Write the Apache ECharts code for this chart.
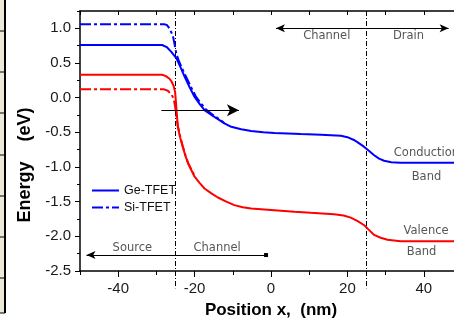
<!DOCTYPE html>
<html>
<head>
<meta charset="utf-8">
<script src="https://cdn.jsdelivr.net/npm/echarts@6/dist/echarts.min.js"></script>
<style>
html, body { margin: 0; padding: 0; background: #fff; }
#chart { width: 454px; height: 320px; }
</style>
</head>
<body>
<div id="chart"></div>
<script>
// band edges: position x (nm) -> energy (eV)
const geCbX = [-50, -28.5, -27.3, -26.1, -24.8, -23.7, -22.6, -21.3, -20, -18.7, -17.4, -15.6, -13.9, -12.2, -10.4, -7.8, -5.2, -2, 0.9, 7.8, 13.1, 18.3, 20, 21.7, 23.1, 24.4, 25.7, 27, 28.3, 29.6, 31.5, 33.9, 50];
const geCbE = [0.76, 0.76, 0.73, 0.66, 0.57, 0.44, 0.30, 0.15, 0.01, -0.09, -0.18, -0.25, -0.31, -0.37, -0.42, -0.455, -0.48, -0.50, -0.51, -0.525, -0.535, -0.55, -0.57, -0.61, -0.66, -0.71, -0.77, -0.83, -0.88, -0.91, -0.93, -0.94, -0.94];

const geVbX = [-50, -28.5, -27.5, -26.5, -26.0, -25.5, -25.1, -24.9, -24.7, -24.4, -23.8, -23.1, -22.4, -21.7, -20.8, -20, -18.7, -17.4, -15.6, -13.9, -11.7, -9.6, -7.4, -5.2, 0, 6.1, 10.4, 16.5, 19, 20.9, 22.7, 24.4, 25.7, 27, 28.7, 30.5, 33.9, 50];
const geVbE = [0.33, 0.33, 0.31, 0.27, 0.23, 0.17, 0.08, -0.05, -0.2, -0.42, -0.57, -0.71, -0.84, -0.95, -1.05, -1.14, -1.23, -1.31, -1.38, -1.44, -1.50, -1.55, -1.58, -1.60, -1.62, -1.645, -1.66, -1.68, -1.70, -1.73, -1.78, -1.84, -1.91, -1.98, -2.02, -2.05, -2.07, -2.07];

// Si-TFET merges into the Ge curves once inside the channel
const siCbX = [-50, -28, -27.3, -26.6, -26.0, -25.6, -25.2, -24.8, -24.2, -23.5, -22.3, -21, -19.7, -18.4, -17, -15, -13.5, -12.2];
const siCbE = [1.06, 1.06, 1.05, 1.00, 0.93, 0.87, 0.76, 0.64, 0.54, 0.45, 0.31, 0.16, 0.02, -0.08, -0.17, -0.26, -0.31, -0.37];
const siVbX = [-50, -28, -27, -26.5, -26, -25.5, -25.1, -24.8, -24.4, -23.8, -23.1, -22.4, -21.7, -20.8, -20];
const siVbE = [0.12, 0.12, 0.10, 0.08, 0.04, -0.01, -0.13, -0.25, -0.40, -0.55, -0.70, -0.83, -0.94, -1.04, -1.13];

// region boundaries (dash-dot verticals)
const boundaries = [-25, 25];

// tick labels
const xLabels = [-40, -20, 0, 20, 40];
const yLabels = [-2.5, -2.0, -1.5, -1.0, -0.5, 0.0, 0.5, 1.0];

// arrows: start x, end x, energy level
const arrowX0 = [1.3, -28.7, -48.3];
const arrowX1 = [46.5, -8.4, -1.3];
const arrowE = [1.0, -0.18, -2.27];

// text notes
const noteText = ['Channel', 'Drain', 'Source', 'Channel', 'Conduction', 'Band', 'Valence', 'Band'];
const noteX = [14.6, 36.0, -36.3, -14.1, 40.7, 40.7, 40.6, 39.4];
const noteE = [0.89, 0.89, -2.17, -2.17, -0.80, -1.14, -1.93, -2.23];

const FONT = '"Liberation Sans", Arial, sans-serif';
const NOTE_FONT = '"DejaVu Sans", sans-serif';
const BLUE = '#0000ff';
const RED = '#ff0000';
const DASHDOT = [11, 3, 3, 3];

const pairs = (xs, ys) => xs.map((x, i) => [x, ys[i]]);

const chart = echarts.init(document.getElementById('chart'));

const bandSeries = (name, xs, ys, color, dashed) => ({
    name: name,
    type: 'line',
    data: pairs(xs, ys),
    symbol: 'none',
    showSymbol: false,
    silent: true,
    lineStyle: { color: color, width: 2, type: dashed ? DASHDOT : 'solid' },
    itemStyle: { color: color }
});

const boundarySeries = boundaries.map(b => ({
    type: 'line',
    data: [[b, 1.25], [b, -2.75]],
    symbol: 'none',
    clip: false,
    silent: true,
    lineStyle: { color: '#000', width: 1, type: [5, 2, 1, 2] }
}));

const arrowData = arrowX0.map((x0, i) => {
    let a = { coord: [x0, arrowE[i]], symbol: 'arrow', symbolSize: [6, 9] };
    let b = { coord: [arrowX1[i], arrowE[i]], symbol: 'arrow', symbolSize: [6, 9] };
    if (i === 1) {
        a.symbol = 'none';
        b.symbolSize = [9, 12];
    }
    if (i === 2) {
        b.symbol = 'rect';
        b.symbolSize = [4, 4];
    }
    return [a, b];
});

const option = {
    animation: false,
    backgroundColor: '#fff',
    grid: { left: 80, right: -8, top: 11, bottom: 49, outerBoundsMode: 'none' },
    legend: {
        data: ['Ge-TFET', 'Si-TFET'],
        orient: 'vertical',
        left: 86,
        top: 179,
        itemWidth: 27,
        itemHeight: 10,
        itemGap: 4,
        itemStyle: { opacity: 0 },
        textStyle: { fontSize: 12.5, color: '#111', fontFamily: FONT }
    },
    xAxis: [
        {
            type: 'value', position: 'bottom', min: -50, max: 50, interval: 10,
            name: 'Position x,  (nm)', nameLocation: 'middle', nameGap: 31,
            nameTextStyle: { fontSize: 17, fontWeight: 'bold', color: '#000', fontFamily: FONT },
            axisLine: { onZero: false, lineStyle: { color: '#000', width: 1.5 } },
            axisTick: { length: 4, lineStyle: { color: '#000' } },
            axisLabel: { customValues: xLabels, margin: 10, fontSize: 15, color: '#1a1a1a', fontFamily: FONT },
            splitLine: { show: false }
        },
        {
            type: 'value', position: 'bottom', min: -50, max: 50, interval: 10,
            axisLine: { show: false, onZero: false },
            axisTick: { customValues: xLabels, length: 6, lineStyle: { color: '#000' } },
            axisLabel: { show: false },
            splitLine: { show: false }
        },
        {
            type: 'value', position: 'top', min: -50, max: 50, interval: 10,
            axisLine: { onZero: false, lineStyle: { color: '#000', width: 1.5 } },
            axisTick: { inside: true, length: 4, lineStyle: { color: '#000' } },
            axisLabel: { show: false },
            splitLine: { show: false }
        }
    ],
    yAxis: [
        {
            type: 'value', position: 'left', min: -2.5, max: 1.25, interval: 0.25,
            name: 'Energy    (eV)', nameLocation: 'middle', nameGap: 45,
            nameTextStyle: { fontSize: 18, fontWeight: 'bold', color: '#000', fontFamily: FONT, padding: [0, 48, 0, 0] },
            axisLine: { onZero: false, lineStyle: { color: '#000', width: 1.5 } },
            axisTick: { length: 3, lineStyle: { color: '#000' } },
            axisLabel: {
                customValues: yLabels, margin: 9, fontSize: 15, color: '#1a1a1a', fontFamily: FONT,
                formatter: v => v.toFixed(1)
            },
            splitLine: { show: false }
        },
        {
            type: 'value', position: 'left', min: -2.5, max: 1.25, interval: 0.25,
            axisLine: { show: false, onZero: false },
            axisTick: { customValues: yLabels, length: 5, lineStyle: { color: '#000' } },
            axisLabel: { show: false },
            splitLine: { show: false }
        }
    ],
    graphic: [
        // edge of a neighbouring panel left of the chart
        { type: 'rect', shape: { x: 0, y: 0, width: 5, height: 313 }, style: { fill: '#ece9d8' }, silent: true },
        { type: 'line', shape: { x1: 5, y1: 0, x2: 5, y2: 313 }, style: { stroke: '#000', lineWidth: 2 }, silent: true },
        ...[31, 72, 113, 155, 196, 237, 278, 313].map(y => ({
            type: 'line', shape: { x1: 0, y1: y, x2: 5, y2: y }, style: { stroke: '#000', lineWidth: 1 }, silent: true
        }))
    ],
    series: [
        ...boundarySeries,
        bandSeries('Si-TFET', siCbX, siCbE, BLUE, true),
        bandSeries('Si-TFET VB', siVbX, siVbE, RED, true),
        bandSeries('Ge-TFET', geCbX, geCbE, BLUE, false),
        bandSeries('Ge-TFET VB', geVbX, geVbE, RED, false),
        {
            type: 'line',
            data: [],
            silent: true,
            markLine: {
                silent: true,
                animation: false,
                label: { show: false },
                lineStyle: { color: '#000', width: 1.2, type: 'solid' },
                data: arrowData
            }
        },
        {
            type: 'scatter',
            data: noteX.map((x, i) => [x, noteE[i], noteText[i]]),
            symbolSize: 1,
            silent: true,
            itemStyle: { color: 'rgba(0,0,0,0)' },
            label: {
                show: true,
                position: 'inside',
                formatter: p => p.data[2],
                fontSize: 11.5,
                color: '#2a2a2a',
                fontFamily: NOTE_FONT
            }
        }
    ]
};

chart.setOption(option);
</script>
</body>
</html>
